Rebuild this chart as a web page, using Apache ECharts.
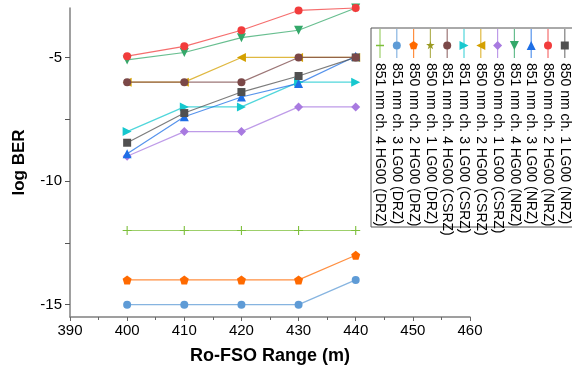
<!DOCTYPE html>
<html>
<head>
<meta charset="utf-8">
<script src="https://cdn.jsdelivr.net/npm/echarts@6.0.0/dist/echarts.min.js"></script>
<style>
  html, body { margin: 0; padding: 0; background: #fff; }
  #main { width: 572px; height: 377px; }
</style>
</head>
<body>
<div id="main"></div>
<script>
// Ro-FSO range (m)
var ranges = [400, 410, 420, 430, 440];

// log BER per channel / modulation
var ch4HgDrz = [-12, -12, -12, -12, -12];
var ch3LgDrz = [-15, -15, -15, -15, -14];
var ch2HgDrz = [-14, -14, -14, -14, -13];
var ch1LgDrz = [];
var ch4HgCsrz = [-6, -6, -6, -5, -5];
var ch3LgCsrz = [-8, -7, -7, -6, -6];
var ch2HgCsrz = [-6, -6, -5, -5, -5];
var ch1LgCsrz = [-9, -8, -8, -7, -7];
var ch4HgNrz = [-5.1, -4.8, -4.2, -3.9, -3.0];
var ch3LgNrz = [-8.9, -7.4, -6.6, -6.05, -4.95];
var ch2HgNrz = [-4.95, -4.55, -3.9, -3.1, -3.0];
var ch1LgNrz = [-8.45, -7.25, -6.4, -5.75, -5.0];

var names = [
  "851 nm ch. 4 HG00 (DRZ)", "851 nm ch. 3 LG00 (DRZ)", "850 nm ch. 2 HG00 (DRZ)", "850 nm ch. 1 LG00 (DRZ)",
  "851 nm ch. 4 HG00 (CSRZ)", "851 nm ch. 3 LG00 (CSRZ)", "850 nm ch. 2 HG00 (CSRZ)", "850 nm ch. 1 LG00 (CSRZ)",
  "851 nm ch. 4 HG00 (NRZ)", "851 nm ch. 3 LG00 (NRZ)", "850 nm ch. 2 HG00 (NRZ)", "850 nm ch. 1 LG00 (NRZ)"
];
var values = [ch4HgDrz, ch3LgDrz, ch2HgDrz, ch1LgDrz, ch4HgCsrz, ch3LgCsrz, ch2HgCsrz, ch1LgCsrz,
  ch4HgNrz, ch3LgNrz, ch2HgNrz, ch1LgNrz];
var colors = ["#7cbf3a", "#5e9bd6", "#ff6a00", "#9a9a22", "#7b4848", "#16c8cf", "#d4a000", "#a87ae0",
  "#34a86a", "#1e6fe6", "#f23c3c", "#505050"];
var marks = ["plus", "circle", "pentagon", "star", "circle", "right", "left", "diamond", "down", "up", "circle", "square"];

var PENTA = "path://M0,-1 L0.951,-0.309 L0.588,0.809 L-0.588,0.809 L-0.951,-0.309 Z";
var STAR = "path://M0,-1 L0.225,-0.309 L0.951,-0.309 L0.363,0.118 L0.588,0.809 L0,0.382 L-0.588,0.809 L-0.363,0.118 L-0.951,-0.309 L-0.225,-0.309 Z";
var PLUS = "path://M-0.12,-1 L0.12,-1 L0.12,-0.12 L1,-0.12 L1,0.12 L0.12,0.12 L0.12,1 L-0.12,1 L-0.12,0.12 L-1,0.12 L-1,-0.12 L-0.12,-0.12 Z";

function seriesSymbol(m) {
  if (m == "plus") return [PLUS, 9, 0];
  if (m == "pentagon") return [PENTA, 9, 0];
  if (m == "star") return [STAR, 9, 0];
  if (m == "circle") return ["circle", 8, 0];
  if (m == "square") return ["rect", 8, 0];
  if (m == "diamond") return ["diamond", 9, 0];
  if (m == "up") return ["triangle", 9, 0];
  if (m == "down") return ["triangle", 9, 180];
  if (m == "left") return ["triangle", 9, 90];
  if (m == "right") return ["triangle", 9, -90];
  return ["circle", 8, 0];
}

// legend mark drawn with graphic shapes
function legendMark(m, cx, cy, color) {
  var r = 4.5;
  var st = { fill: color };
  if (m == "circle") return { type: "circle", shape: { cx: cx, cy: cy, r: 4 }, style: st };
  if (m == "square") return { type: "rect", shape: { x: cx - 4, y: cy - 4, width: 8, height: 8 }, style: st };
  if (m == "plus") return { type: "line", shape: { x1: cx - 4, y1: cy, x2: cx + 4, y2: cy }, style: { stroke: color, lineWidth: 1.5 } };
  var pts;
  if (m == "up") pts = [[cx, cy - r], [cx + r, cy + r], [cx - r, cy + r]];
  if (m == "down") pts = [[cx, cy + r], [cx + r, cy - r], [cx - r, cy - r]];
  if (m == "left") pts = [[cx - r, cy], [cx + r, cy - r], [cx + r, cy + r]];
  if (m == "right") pts = [[cx + r, cy], [cx - r, cy - r], [cx - r, cy + r]];
  if (m == "diamond") pts = [[cx, cy - r], [cx + r, cy], [cx, cy + r], [cx - r, cy]];
  if (m == "pentagon" || m == "star") {
    pts = [];
    var n = m == "star" ? 10 : 5;
    for (var k = 0; k < n; k++) {
      var a = -Math.PI / 2 + k * 2 * Math.PI / n;
      var rr = (m == "star" && k % 2 == 1) ? r * 0.4 : r;
      pts.push([cx + rr * Math.cos(a), cy + rr * Math.sin(a)]);
    }
  }
  return { type: "polygon", shape: { points: pts }, style: st };
}

var series = [];
var graphics = [{
  type: "rect", shape: { x: 371, y: 28, width: 210, height: 199 },
  style: { fill: "#fff", stroke: "#555", lineWidth: 1 }, z: 10
}];

for (var i = 0; i < names.length; i++) {
  var sym = seriesSymbol(marks[i]);
  var pts = [];
  for (var j = 0; j < values[i].length; j++) pts.push([ranges[j], values[i][j]]);
  series.push({
    name: names[i],
    type: "line",
    data: pts,
    symbol: sym[0],
    symbolSize: sym[1],
    symbolRotate: sym[2],
    showSymbol: true,
    clip: false,
    z: marks[i] == "circle" && i == 4 ? 3 : 2,
    itemStyle: { color: colors[i], opacity: 1 },
    lineStyle: { color: colors[i], width: 1.2, opacity: 0.75 },
    emphasis: { disabled: true }
  });

  var lx = 380 + i * 16.8;
  graphics.push({ type: "line", shape: { x1: lx, y1: 29, x2: lx, y2: 58 },
    style: { stroke: colors[i], lineWidth: 1.2, opacity: 0.75 }, z: 11 });
  var lm = legendMark(marks[i], lx, 45.5, colors[i]);
  lm.z = 12;
  graphics.push(lm);
  graphics.push({
    type: "text", x: lx, y: 63, rotation: -Math.PI / 2, z: 12,
    style: { text: names[i], fill: "#000", font: "14px 'Liberation Sans', Arial", align: "left", verticalAlign: "middle" }
  });
}

var myChart = echarts.init(document.getElementById("main"));
myChart.setOption({
  animation: false,
  grid: { left: 70, right: 102, top: 8, bottom: 60 },
  xAxis: {
    type: "value",
    min: 390,
    max: 460,
    interval: 10,
    name: "Ro-FSO Range (m)",
    nameLocation: "middle",
    nameGap: 30,
    nameTextStyle: { color: "#000", fontSize: 18, fontWeight: "bold", fontFamily: "Liberation Sans, Arial" },
    axisLine: { lineStyle: { color: "#808080", width: 1.5 } },
    axisTick: { show: true, length: 4, lineStyle: { color: "#666" } },
    minorTick: { show: true, splitNumber: 2, length: 3, lineStyle: { color: "#666" } },
    axisLabel: { color: "#000", fontSize: 15, fontFamily: "Liberation Sans, Arial", margin: 6 },
    splitLine: { show: false }
  },
  yAxis: {
    type: "value",
    min: -15.5,
    max: -3,
    name: "log BER",
    nameLocation: "middle",
    nameRotate: 90,
    nameGap: 42,
    nameTextStyle: { color: "#000", fontSize: 17, fontWeight: "bold", fontFamily: "Liberation Sans, Arial" },
    axisLine: { show: true, lineStyle: { color: "#808080", width: 1.5 } },
    axisTick: { show: true, length: 5, customValues: [-15, -12.5, -10, -7.5, -5], lineStyle: { color: "#555" } },
    axisLabel: { color: "#000", fontSize: 15, fontFamily: "Liberation Sans, Arial", margin: 8, customValues: [-15, -10, -5] },
    splitLine: { show: false }
  },
  series: series,
  graphic: graphics
});
</script>
</body>
</html>
